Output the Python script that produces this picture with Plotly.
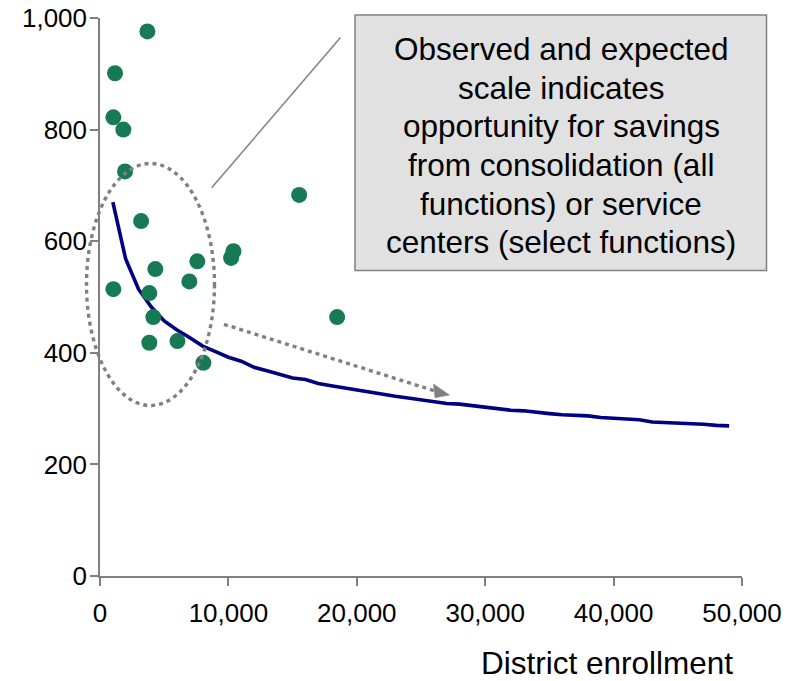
import plotly.graph_objects as go

# District-level observations: enrollment vs. cost per student
district_enrollment = [3690, 1170, 1040, 1820, 1950, 15510, 3200, 4310, 7580, 10390,
                       10210, 6960, 1040, 3840, 4150, 3840, 6030, 8050, 18470]
district_cost = [976, 901, 822, 800, 725, 683, 636, 550, 564, 582,
                 570, 528, 514, 507, 464, 418, 421, 382, 464]

# Expected cost curve by enrollment
curve_enrollment = [1000, 2000, 3000, 4000, 5000, 6000, 7000, 8000, 9000, 10000,
                    11000, 12000, 13000, 14000, 15000, 16000, 17000, 18000, 19000, 20000,
                    21000, 22000, 23000, 24000, 25000, 26000, 27000, 28000, 29000, 30000,
                    31000, 32000, 33000, 34000, 35000, 36000, 37000, 38000, 39000, 40000,
                    41000, 42000, 43000, 44000, 45000, 46000, 47000, 48000, 49000]
curve_cost = [670, 568, 514, 482, 457, 441, 427, 412, 402, 392,
              385, 374, 368, 362, 355, 352, 345, 341, 337, 333,
              330, 326, 322, 319, 316, 312, 309, 308, 305, 302,
              299, 297, 296, 293, 291, 289, 288, 287, 284, 283,
              281, 280, 276, 275, 275, 273, 272, 270, 269]

x_ticks = [0, 10000, 20000, 30000, 40000, 50000]
x_tick_labels = ["0", "10,000", "20,000", "30,000", "40,000", "50,000"]
y_ticks = [0, 200, 400, 600, 800, 1000]
y_tick_labels = ["0", "200", "400", "600", "800", "1,000"]

callout_lines = [
    "Observed and expected",
    "scale indicates",
    "opportunity for savings",
    "from consolidation (all",
    "functions) or service",
    "centers (select functions)",
]
x_title = "District enrollment"

W, H = 800, 681
ML, MR, MT, MB = 100, 58, 18, 105
PW, PH = W - ML - MR, H - MT - MB
FONT = "Liberation Sans, Arial, sans-serif"
GREY = "#808080"


def px(x):
    """Pixel column -> paper x."""
    return (x - ML) / PW


def py(y):
    """Pixel row -> paper y."""
    return (H - MB - y) / PH


fig = go.Figure()

fig.add_trace(go.Scatter(
    x=curve_enrollment, y=curve_cost, mode="lines",
    line=dict(color="#000080", width=3.6),
    cliponaxis=False, hoverinfo="skip",
))
fig.add_trace(go.Scatter(
    x=district_enrollment, y=district_cost, mode="markers",
    marker=dict(color="#187a55", size=16, line=dict(width=0)),
    cliponaxis=False,
))

axis_common = dict(
    showgrid=False, zeroline=False, showline=True, automargin=False,
    linecolor=GREY, linewidth=1.5,
    ticks="outside", ticklen=8, tickwidth=1.5, tickcolor=GREY,
    tickfont=dict(family=FONT, size=26, color="#000000"),
)
fig.update_xaxes(range=[0, 50000], tickvals=x_ticks, ticktext=x_tick_labels,
                 ticklabelstandoff=5, **axis_common)
fig.update_yaxes(range=[0, 1000], tickvals=y_ticks, ticktext=y_tick_labels,
                 ticklabelstandoff=-2, **axis_common)

shapes = [
    # dotted ellipse around the small districts
    dict(type="circle", xref="paper", yref="paper", layer="above",
         x0=px(86.5), x1=px(214.5), y0=py(405.5), y1=py(163.5),
         line=dict(color=GREY, width=3.4, dash="4px,4px")),
    # leader line from ellipse to the callout
    dict(type="line", xref="paper", yref="paper", layer="above",
         x0=px(211.7), y0=py(187.7), x1=px(340.5), y1=py(37.5),
         line=dict(color=GREY, width=1.5)),
    # dotted arrow shaft toward larger districts
    dict(type="line", xref="paper", yref="paper", layer="above",
         x0=px(224), y0=py(324.3), x1=px(435), y1=py(391),
         line=dict(color=GREY, width=3.4, dash="4px,4px")),
    # arrowhead
    dict(type="path", xref="paper", yref="paper", layer="above",
         path="M {:.5f},{:.5f} L {:.5f},{:.5f} L {:.5f},{:.5f} Z".format(
             px(433.5), py(384.0), px(449.5), py(395.0), px(435.0), py(397.8)),
         fillcolor=GREY, line=dict(color=GREY, width=0.5)),
    # callout box
    dict(type="rect", xref="paper", yref="paper", layer="above",
         x0=px(355), x1=px(766.5), y0=py(270.5), y1=py(15),
         fillcolor="#e1e1e1", line=dict(color=GREY, width=1.5)),
]

annotations = []
for i, line in enumerate(callout_lines):
    annotations.append(dict(
        text=line, xref="paper", yref="paper",
        x=px(561), y=py(49.5 + 38.5 * i), xanchor="center", yanchor="middle",
        showarrow=False, font=dict(family=FONT, size=31.5, color="#000000"),
    ))
annotations.append(dict(
    text=x_title, xref="paper", yref="paper",
    x=px(607), y=py(663), xanchor="center", yanchor="middle",
    showarrow=False, font=dict(family=FONT, size=31.5, color="#000000"),
))

fig.update_layout(
    width=W, height=H,
    margin=dict(l=ML, r=MR, t=MT, b=MB, autoexpand=False),
    plot_bgcolor="white", paper_bgcolor="white",
    showlegend=False,
    font=dict(family=FONT, color="#000000"),
    shapes=shapes, annotations=annotations,
)

fig.write_html("out.html")
